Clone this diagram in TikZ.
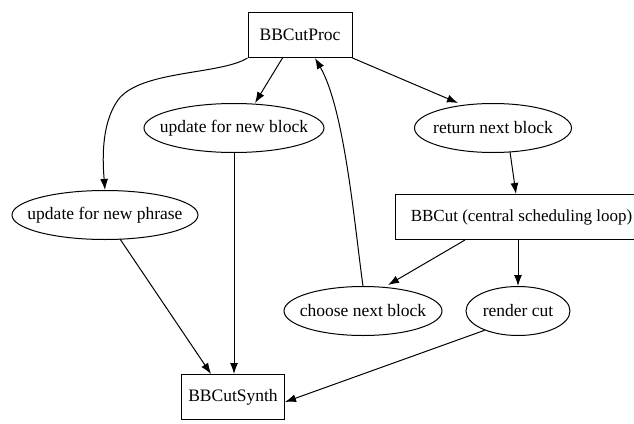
\documentclass[tikz,border=0pt]{standalone}
\usepackage{fontspec}
\setmainfont{Liberation Serif}
\usetikzlibrary{shapes.geometric,arrows.meta}
\newcommand{\zw}[1]{\makebox[0pt]{#1}}
\begin{document}
\begin{tikzpicture}[x=1pt,y=-1pt,
  every node/.style={font=\fontsize{17.5}{20}\selectfont, inner sep=0pt},
  boxnode/.style={draw, rectangle, minimum height=45, line width=1pt},
  ellnode/.style={draw, ellipse, minimum height=49, line width=1pt},
  edge/.style={-{Latex[length=11pt,width=8pt]}, line width=1pt}]
\useasboundingbox (0,0) rectangle (634,423);
\clip (0,0) rectangle (634,423);
\node[boxnode, minimum width=104] (proc) at (300,35) {BBCutProc};
\node[ellnode, minimum width=180] (ublock) at (234,128) {\zw{update for new block}};
\node[ellnode, minimum width=157] (ret) at (493,128) {\zw{return next block}};
\node[ellnode, minimum width=186] (uphrase) at (105,215) {\zw{update for new phrase}};
\node[boxnode, minimum width=246, anchor=west, font=\fontsize{17}{20}\selectfont] (cut) at (395,217) {\hspace*{6pt}BBCut (central scheduling loop)\hfill};
\node[ellnode, minimum width=158] (choose) at (363,311) {\zw{choose next block}};
\node[ellnode, minimum width=104] (render) at (518,311) {\zw{render cut}};
\node[boxnode, minimum width=103] (synth) at (233,397) {BBCutSynth};
\draw[edge] (proc.south west)++(35,0) -- (ublock.north -| 255,0);
\draw[edge] (proc.south east) -- ([xshift=-35pt]ret.north);
\draw[edge] (proc.south west) .. controls (220,75) and (140,70) .. (118,100) .. controls (100,125) and (103,165) .. (uphrase.north);
\draw[edge] (ublock.south) -- (synth.north -| ublock.south);
\draw[edge] (uphrase.south) ++(15,-1) -- ([xshift=-22pt]synth.north);
\draw[edge] (ret.south) ++(17,-1) -- (cut.north -| 516,0);
\draw[edge] (cut.south -| 465,0) -- ([xshift=25pt,yshift=1pt]choose.north);
\draw[edge] (cut.south -| render.north) -- (render.north);
\draw[edge] (render.210) -- ([yshift=-5pt]synth.east);
\draw[edge] (choose.north) .. controls (355,230) and (345,110) .. ([xshift=15pt]proc.south);
\end{tikzpicture}
\end{document}
